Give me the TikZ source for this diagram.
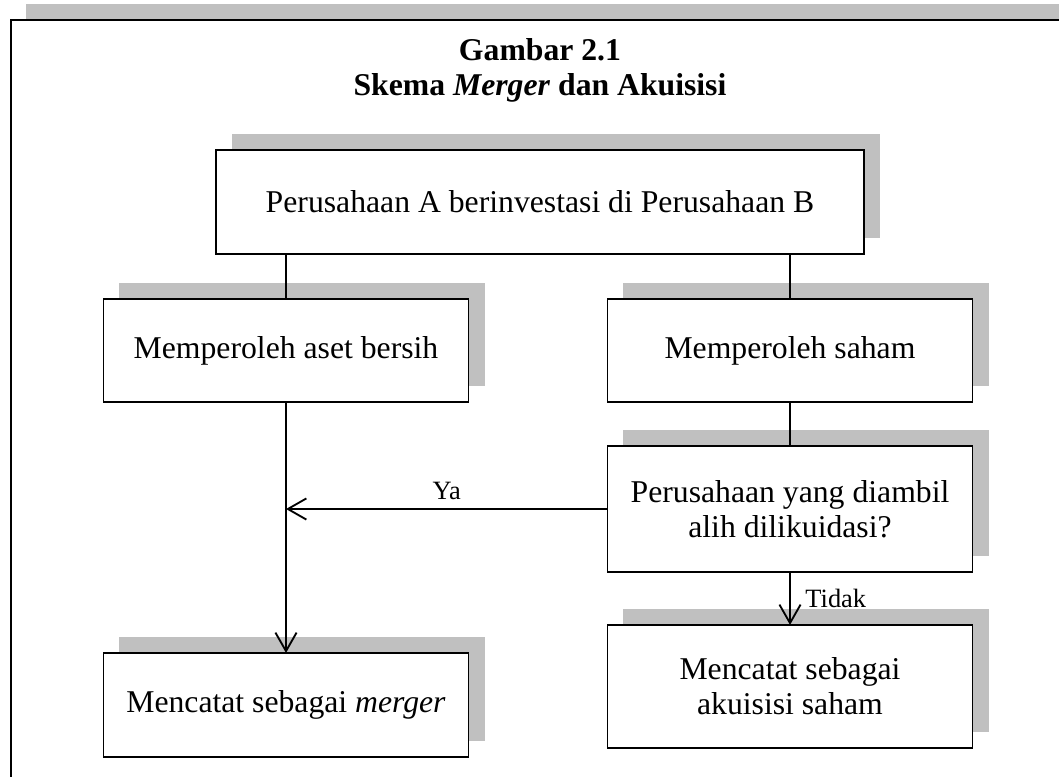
\documentclass[tikz,border=0pt]{standalone}
\usepackage{fontspec}
\setmainfont{Liberation Serif}
\usepackage{xcolor}
\usepackage{tikz}
\usetikzlibrary{arrows.meta,positioning,calc,shadows}
\definecolor{shadowgray}{RGB}{192,192,192}

\begin{document}
\begin{tikzpicture}[>={Straight Barb[length=7pt,width=8pt]}, x=0.3785pt, y=-0.3785pt,
  box/.style={rectangle,draw,line width=0.7pt,fill=white,inner sep=0pt,outer sep=0pt,
    minimum width=138.2pt,minimum height=39pt,align=center,
    font=\fontsize{12}{13.3}\selectfont,
    drop shadow={shadow xshift=6.06pt,shadow yshift=6.06pt,fill=shadowgray,opacity=1}},
  link/.style={line width=0.7pt},
  tag/.style={font=\fontsize{10}{12}\selectfont,inner sep=1.5pt}]
  \useasboundingbox (0,0) rectangle (1059,777);
  % Outer frame and its shadow band
  \fill[shadowgray] (26,4) rectangle (1059,19);
  \draw[line width=0.9pt] (1059,20) -- (11,20) -- (11,777);
  % Title
  \node[font=\fontsize{12}{13.3}\selectfont\bfseries,align=center] (title) at (540,70)
    {Gambar 2.1\\Skema \textit{Merger} dan Akuisisi};
  % Top box
  \node[box,minimum width=245.3pt,minimum height=39.4pt] (invest) at (540,202)
    {Perusahaan A berinvestasi di Perusahaan B};
  % Second row
  \node[box] (aset) at (286,350.5) {Memperoleh aset bersih};
  \node[box] (saham) at (790,350.5) {Memperoleh saham};
  % Question
  \node[box,minimum height=47.7pt] (likuidasi) at (790,509)
    {Perusahaan yang diambil\\alih dilikuidasi?};
  % Results
  \node[box,minimum height=46.6pt] (akuisisi) at (790,686.5)
    {Mencatat sebagai\\akuisisi saham};
  \node[box,minimum height=39.4pt] (merger) at (286,705)
    {Mencatat sebagai \textit{merger}};
  % Links
  \draw[link] (invest.south -| aset.north) -- (aset.north);
  \draw[link] (invest.south -| saham.north) -- (saham.north);
  \draw[link,->] (aset.south) -- (merger.north);
  \draw[link] (saham.south) -- (likuidasi.north);
  \draw[link,->] (likuidasi.west) -- (likuidasi.west -| aset.south)
    node[tag,midway,above=1.5pt] {Ya};
  \draw[link,->] (likuidasi.south) -- (akuisisi.north)
    node[tag,midway,right=4pt] {Tidak};
\end{tikzpicture}
\end{document}
